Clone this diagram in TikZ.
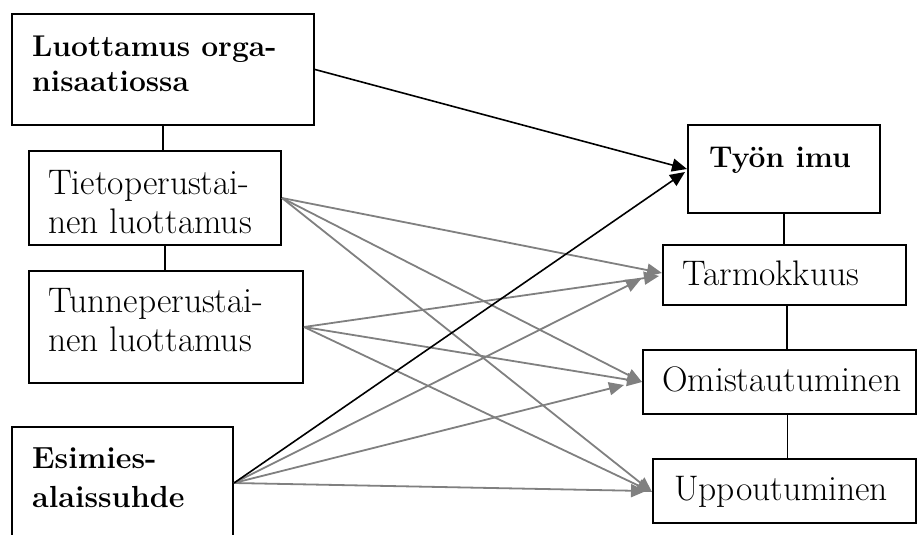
\documentclass[tikz,border=0pt]{standalone}
\usepackage{fontspec}
\usetikzlibrary{fit,arrows.meta}
\definecolor{arrgray}{RGB}{128,128,128}
\tikzset{
  box/.style={draw, line width=2pt, inner sep=0pt, fit={#1}},
  link/.style={draw, line width=1.3pt},
  lbl/.style={anchor=base west, inner sep=0pt},
  blackarrow/.style={draw, line width=1.6pt, -{Triangle[length=15pt,width=13pt]}},
  grayarrow/.style={draw=arrgray, line width=1.8pt, -{Triangle[length=15pt,width=13pt]}, arrgray},
}
\newcommand{\bigbold}{\fontsize{30}{35}\selectfont\bfseries}
\newcommand{\bigboldb}{\fontsize{30.5}{39}\selectfont\bfseries}
\newcommand{\bigreg}{\fontsize{35.5}{39.5}\selectfont}
\begin{document}
\begin{tikzpicture}[x=1pt,y=-1pt]
\useasboundingbox (0,0) rectangle (918,535);
\clip (0,0) rectangle (918,535);
% boxes
\node[box={(12,14) (314,125)}] (L) {};
\node[box={(29,151) (281,245)}] (T1) {};
\node[box={(29,271) (303,383)}] (T2) {};
\node[box={(12,427) (233,539)}] (E) {};
\node[box={(688,125) (880,213)}] (W) {};
\node[box={(663,245) (906,305)}] (Ta) {};
\node[box={(643,350) (916,414)}] (Om) {};
\node[box={(653,459) (916,523)}] (Up) {};
% texts
\node[lbl] (tL) at (32,57) {\bigbold\begin{tabular}[t]{@{}l@{}}Luottamus orga-\\nisaatiossa\end{tabular}};
\node[lbl] (tT1) at (48,194) {\bigreg\begin{tabular}[t]{@{}l@{}}Tietoperustai-\\nen luottamus\end{tabular}};
\node[lbl] (tT2) at (48,312) {\bigreg\begin{tabular}[t]{@{}l@{}}Tunneperustai-\\nen luottamus\end{tabular}};
\node[lbl] (tE) at (32,468) {\bigboldb\begin{tabular}[t]{@{}l@{}}Esimies-\\alaissuhde\end{tabular}};
\node[lbl] (tW) at (709,167) {\bigbold Työn imu};
\node[lbl] (tTa) at (682,285) {\bigreg Tarmokkuus};
\node[lbl] (tOm) at (662,391) {\bigreg Omistautuminen};
\node[lbl] (tUp) at (674,500) {\bigreg Uppoutuminen};
% vertical links
\path[link] (L.south) -- (L.south |- T1.north);
\path[link] ([xshift=10pt]T1.south) -- ([xshift=10pt]T1.south |- T2.north);
\path[link] (W.south) -- (W.south |- Ta.north);
\path[link] ([xshift=2.5pt]Ta.south) -- ([xshift=2.5pt]Ta.south |- Om.north);
\path[link] ([xshift=8pt]Om.south) -- ([xshift=8pt]Om.south |- Up.north);
% gray arrows
\path[grayarrow] (T1.east) -- ([yshift=2pt]Ta.west);
\path[grayarrow] (T1.east) -- (Om.west);
\path[grayarrow] (T1.east) -- ([yshift=-1pt]Up.west);
\path[grayarrow] (T2.east) -- ([shift={(-3,1)}]Ta.west);
\path[grayarrow] (T2.east) -- (Om.west);
\path[grayarrow] (T2.east) -- ([yshift=-1pt]Up.west);
\path[grayarrow] (E.east) -- ([shift={(-21,4)}]Ta.west);
\path[grayarrow] (E.east) -- ([shift={(-18,3)}]Om.west);
\path[grayarrow] (E.east) -- ([shift={(-6,0)}]Up.west);
% black arrows
\path[blackarrow] (L.east) -- (W.west);
\path[blackarrow] (E.east) -- ([shift={(-2,3)}]W.west);
\end{tikzpicture}
\end{document}
